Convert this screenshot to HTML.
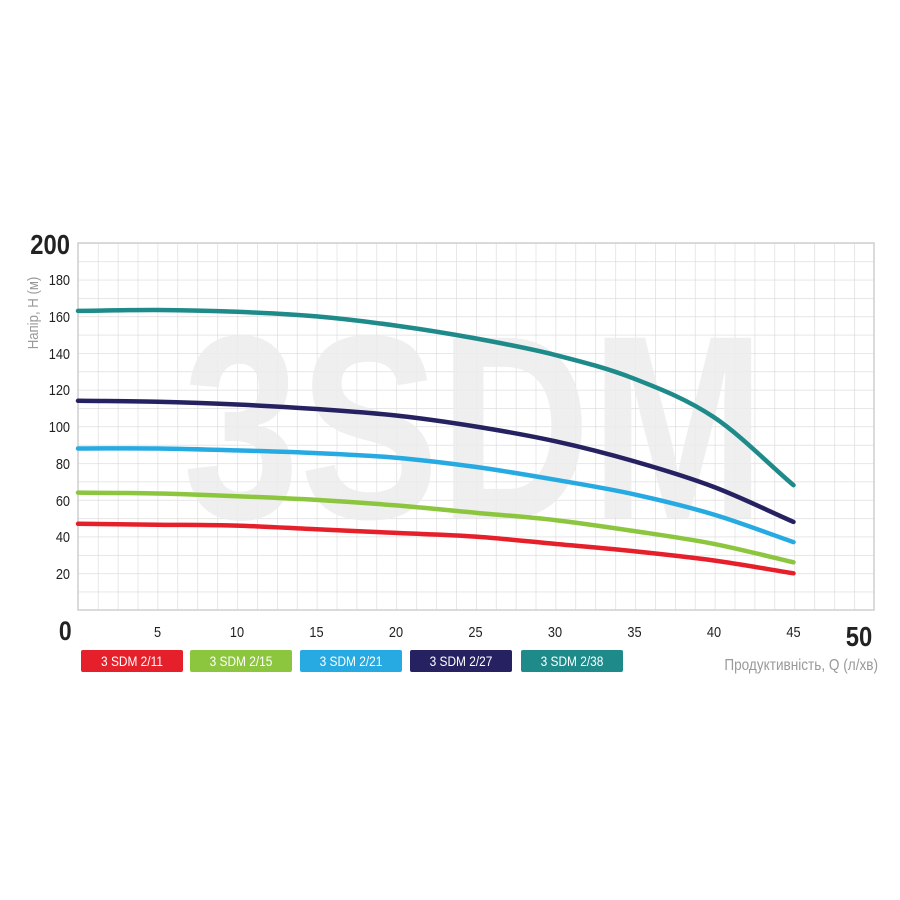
<!DOCTYPE html>
<html><head><meta charset="utf-8"><style>
body{margin:0;background:#fff;}
svg{display:block;font-family:"Liberation Sans",sans-serif;}
</style></head><body>
<svg width="900" height="900" viewBox="0 0 900 900" xmlns="http://www.w3.org/2000/svg">
<defs>
<pattern id="gp" x="78" y="243" width="19.9" height="18.35" patternUnits="userSpaceOnUse">
<path d="M0,0 H19.9 M0,0 V18.35" fill="none" stroke="#d8d8d8" stroke-width="1.2"/>
</pattern>
</defs>
<rect width="900" height="900" fill="#fff"/>
<rect x="78" y="243" width="796" height="367" fill="url(#gp)"/>
<text x="474" y="518" text-anchor="middle" font-size="262" font-weight="bold" fill="#ececec" fill-opacity="0.85" transform="translate(474 0) scale(0.8 1) translate(-474 0)">3SDM</text>
<rect x="78" y="243" width="796" height="367" fill="none" stroke="#cfcfcf" stroke-width="1.5"/>
<g fill="none" stroke-width="4.5" stroke-linecap="round">
<path stroke="#1e8a8a" d="M78,310.9 C104.5,310.6 131,309.85 157.5,310 C184,310.15 210.5,310.73 237,311.8 C263.5,312.87 290,314.1 316.5,316.4 C343,318.7 369.5,321.93 396,325.6 C422.5,329.27 449,333.52 475.5,338.4 C502,343.28 528.5,348.17 555,354.9 C581.5,361.63 608,368.4 634.5,378.8 C661,389.2 687.5,399.57 714,417.3 C740.5,435.03 767,462.6 793.5,485.2"/>
<path stroke="#262261" d="M78,400.8 C104.5,401.1 131,401.08 157.5,401.7 C184,402.32 210.5,403.28 237,404.5 C263.5,405.72 290,407.17 316.5,409 C343,410.83 369.5,412.58 396,415.5 C422.5,418.42 449,422.22 475.5,426.5 C502,430.78 528.5,435.38 555,441.2 C581.5,447.02 608,453.77 634.5,461.4 C661,469.03 687.5,476.92 714,487 C740.5,497.08 767,510.27 793.5,521.9"/>
<path stroke="#27aae1" d="M78,448.5 C104.5,448.5 131,448.18 157.5,448.5 C184,448.82 210.5,449.63 237,450.4 C263.5,451.17 290,451.88 316.5,453.1 C343,454.32 369.5,455.4 396,457.7 C422.5,460 449,463.23 475.5,466.9 C502,470.57 528.5,475.12 555,479.7 C581.5,484.28 608,488.58 634.5,494.4 C661,500.22 687.5,506.65 714,514.6 C740.5,522.55 767,532.93 793.5,542.1"/>
<path stroke="#8cc63f" d="M78,492.6 C104.5,492.9 131,492.9 157.5,493.5 C184,494.1 210.5,495.13 237,496.2 C263.5,497.27 290,498.37 316.5,499.9 C343,501.43 369.5,503.27 396,505.4 C422.5,507.53 449,510.25 475.5,512.7 C502,515.15 528.5,517.03 555,520.1 C581.5,523.17 608,527.13 634.5,531.1 C661,535.07 687.5,538.7 714,543.9 C740.5,549.1 767,556.17 793.5,562.3"/>
<path stroke="#e5202a" d="M78,523.8 C104.5,524.1 131,524.4 157.5,524.7 C184,525 210.5,524.83 237,525.6 C263.5,526.37 290,528.08 316.5,529.3 C343,530.52 369.5,531.68 396,532.9 C422.5,534.12 449,534.77 475.5,536.6 C502,538.43 528.5,541.45 555,543.9 C581.5,546.35 608,548.53 634.5,551.3 C661,554.07 687.5,556.83 714,560.5 C740.5,564.17 767,569.03 793.5,573.3"/>
</g>
<g font-size="15" fill="#222" text-anchor="end" transform="translate(70 0) scale(0.85 1) translate(-70 0)">
<text x="70" y="254" font-size="28" font-weight="bold">200</text>
<text x="70" y="285">180</text><text x="70" y="322">160</text><text x="70" y="359">140</text>
<text x="70" y="395">120</text><text x="70" y="432">100</text><text x="70" y="469">80</text>
<text x="70" y="506">60</text><text x="70" y="542">40</text><text x="70" y="579">20</text>
<text x="72" y="640" font-size="27" font-weight="bold">0</text>
</g>
<g font-size="15" fill="#222" text-anchor="middle">
<text x="157.5" y="637" transform="translate(157.5 0) scale(0.85 1) translate(-157.5 0)">5</text>
<text x="237" y="637" transform="translate(237 0) scale(0.85 1) translate(-237 0)">10</text>
<text x="316.5" y="637" transform="translate(316.5 0) scale(0.85 1) translate(-316.5 0)">15</text>
<text x="396" y="637" transform="translate(396 0) scale(0.85 1) translate(-396 0)">20</text>
<text x="475.5" y="637" transform="translate(475.5 0) scale(0.85 1) translate(-475.5 0)">25</text>
<text x="555" y="637" transform="translate(555 0) scale(0.85 1) translate(-555 0)">30</text>
<text x="634.5" y="637" transform="translate(634.5 0) scale(0.85 1) translate(-634.5 0)">35</text>
<text x="714" y="637" transform="translate(714 0) scale(0.85 1) translate(-714 0)">40</text>
<text x="793.5" y="637" transform="translate(793.5 0) scale(0.85 1) translate(-793.5 0)">45</text>
<text x="859" y="646" font-size="28" font-weight="bold" transform="translate(859 0) scale(0.85 1) translate(-859 0)">50</text>
</g>
<text x="0" y="0" font-size="15" fill="#999" text-anchor="middle" transform="translate(38 313) rotate(-90) scale(0.88 1)">Напір, Н (м)</text>
<text x="878" y="670" font-size="16" fill="#999" text-anchor="end" transform="translate(878 0) scale(0.85 1) translate(-878 0)">Продуктивність, Q (л/хв)</text>
<g font-size="14" fill="#fff" text-anchor="middle">
<rect x="81" y="650" width="102" height="22" rx="2" fill="#e5202a"/>
<rect x="190" y="650" width="102" height="22" rx="2" fill="#8cc63f"/>
<rect x="300" y="650" width="102" height="22" rx="2" fill="#27aae1"/>
<rect x="410" y="650" width="102" height="22" rx="2" fill="#262261"/>
<rect x="521" y="650" width="102" height="22" rx="2" fill="#1e8a8a"/>
<text x="132" y="666" transform="translate(132 0) scale(0.85 1) translate(-132 0)">3 SDM 2/11</text>
<text x="241" y="666" transform="translate(241 0) scale(0.85 1) translate(-241 0)">3 SDM 2/15</text>
<text x="351" y="666" transform="translate(351 0) scale(0.85 1) translate(-351 0)">3 SDM 2/21</text>
<text x="461" y="666" transform="translate(461 0) scale(0.85 1) translate(-461 0)">3 SDM 2/27</text>
<text x="572" y="666" transform="translate(572 0) scale(0.85 1) translate(-572 0)">3 SDM 2/38</text>
</g>
</svg>
</body></html>
